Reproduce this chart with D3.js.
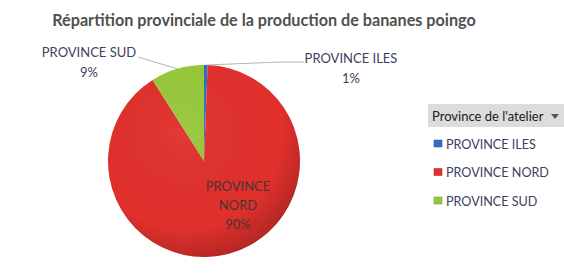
<!DOCTYPE html>
<html><head><meta charset="utf-8">
<script src="https://cdn.jsdelivr.net/npm/d3@7"></script>
<style>
html,body{margin:0;padding:0;background:#fff;}
svg{display:block;}
text{font-family:Lato,"Open Sans",sans-serif;}
</style></head>
<body>
<script>
const title = "Répartition provinciale de la production de bananes poingo";
const categories = ["PROVINCE ILES", "PROVINCE NORD", "PROVINCE SUD"];
const values = [0.6, 90.4, 9.0];
const colors = ["#2f6ec4", "#e0302c", "#97c83a"];
const darkColors = ["#1d4f94", "#a81e1c", "#6f9a26"];
const legendTitle = "Province de l'atelier";

const W = 564, H = 275;
const svg = d3.select("body").append("svg").attr("width", W).attr("height", H);
const defs = svg.append("defs");

svg.append("text").attr("x", 264).attr("y", 26).attr("text-anchor", "middle")
  .attr("font-size", 16.2).attr("font-weight", "bold").attr("fill", "#505050")
  .text(title);

const cx = 204, cy = 161, R = 96;
const pie = d3.pie().sort(null).value(d => d)(values);
const arc = d3.arc().innerRadius(0).outerRadius(R);
svg.append("g").attr("transform", `translate(${cx},${cy})`)
  .selectAll("path").data(pie).join("path")
  .attr("d", arc)
  .attr("fill", (d, i) => colors[i]);
// shading overlay
const sh = defs.append("radialGradient").attr("id", "shade")
  .attr("cx", "40%").attr("cy", "35%").attr("r", "70%");
sh.append("stop").attr("offset", "0%").attr("stop-color", "#fff").attr("stop-opacity", 0.05);
sh.append("stop").attr("offset", "72%").attr("stop-color", "#000").attr("stop-opacity", 0.0);
sh.append("stop").attr("offset", "100%").attr("stop-color", "#000").attr("stop-opacity", 0.22);
svg.append("circle").attr("cx", cx).attr("cy", cy).attr("r", R).attr("fill", "url(#shade)");

const pct = v => Math.round(v / d3.sum(values) * 100) + "%";
const lblColor = "#404060";
const edge = d => { const m = (d.startAngle + d.endAngle) / 2; return [cx + R * Math.sin(m), cy - R * Math.cos(m)]; };

// ILES label (outside, right)
const e0 = edge(pie[0]);
svg.append("polyline").attr("points", `${e0[0]},${e0[1]} 280,62 304,62`)
  .attr("fill", "none").attr("stroke", "#a0a0a0").attr("stroke-width", 0.8);
svg.append("text").attr("x", 351).attr("y", 63).attr("text-anchor", "middle")
  .attr("font-size", 13).attr("fill", lblColor).text(categories[0]);
svg.append("text").attr("x", 351).attr("y", 83).attr("text-anchor", "middle")
  .attr("font-size", 13).attr("fill", lblColor).text(pct(values[0]));

// SUD label (outside, left)
const e2 = edge(pie[2]);
svg.append("polyline").attr("points", `${e2[0]},${e2[1]} 138,57`)
  .attr("fill", "none").attr("stroke", "#a0a0a0").attr("stroke-width", 0.8);
svg.append("text").attr("x", 89).attr("y", 57).attr("text-anchor", "middle")
  .attr("font-size", 13).attr("fill", lblColor).text(categories[2]);
svg.append("text").attr("x", 89).attr("y", 77).attr("text-anchor", "middle")
  .attr("font-size", 13).attr("fill", lblColor).text(pct(values[2]));

// NORD label (inside)
const nl = svg.append("text").attr("text-anchor", "middle").attr("font-size", 13).attr("fill", "#4a3434");
["PROVINCE", "NORD", pct(values[1])].forEach((t, i) => {
  nl.append("tspan").attr("x", 238).attr("y", 191 + i * 19).text(t);
});

// Legend
svg.append("rect").attr("x", 428).attr("y", 104).attr("width", 136).attr("height", 23).attr("fill", "#dcdcdc");
svg.append("text").attr("x", 432).attr("y", 121).attr("font-size", 13).attr("fill", "#202020").text(legendTitle);
svg.append("path").attr("d", "M551,114 L559,114 L555,119 Z").attr("fill", "#555");
const lg = svg.append("g");
categories.forEach((c, i) => {
  const y = 144 + i * 28.5;
  lg.append("rect").attr("x", 434).attr("y", y - 4).attr("width", 8).attr("height", 7)
    .attr("fill", colors[i]).attr("stroke", darkColors[i]).attr("stroke-width", 0.5);
  lg.append("text").attr("x", 446).attr("y", y + 4.5).attr("font-size", 12.6).attr("fill", lblColor).text(c);
});
</script>
</body></html>
